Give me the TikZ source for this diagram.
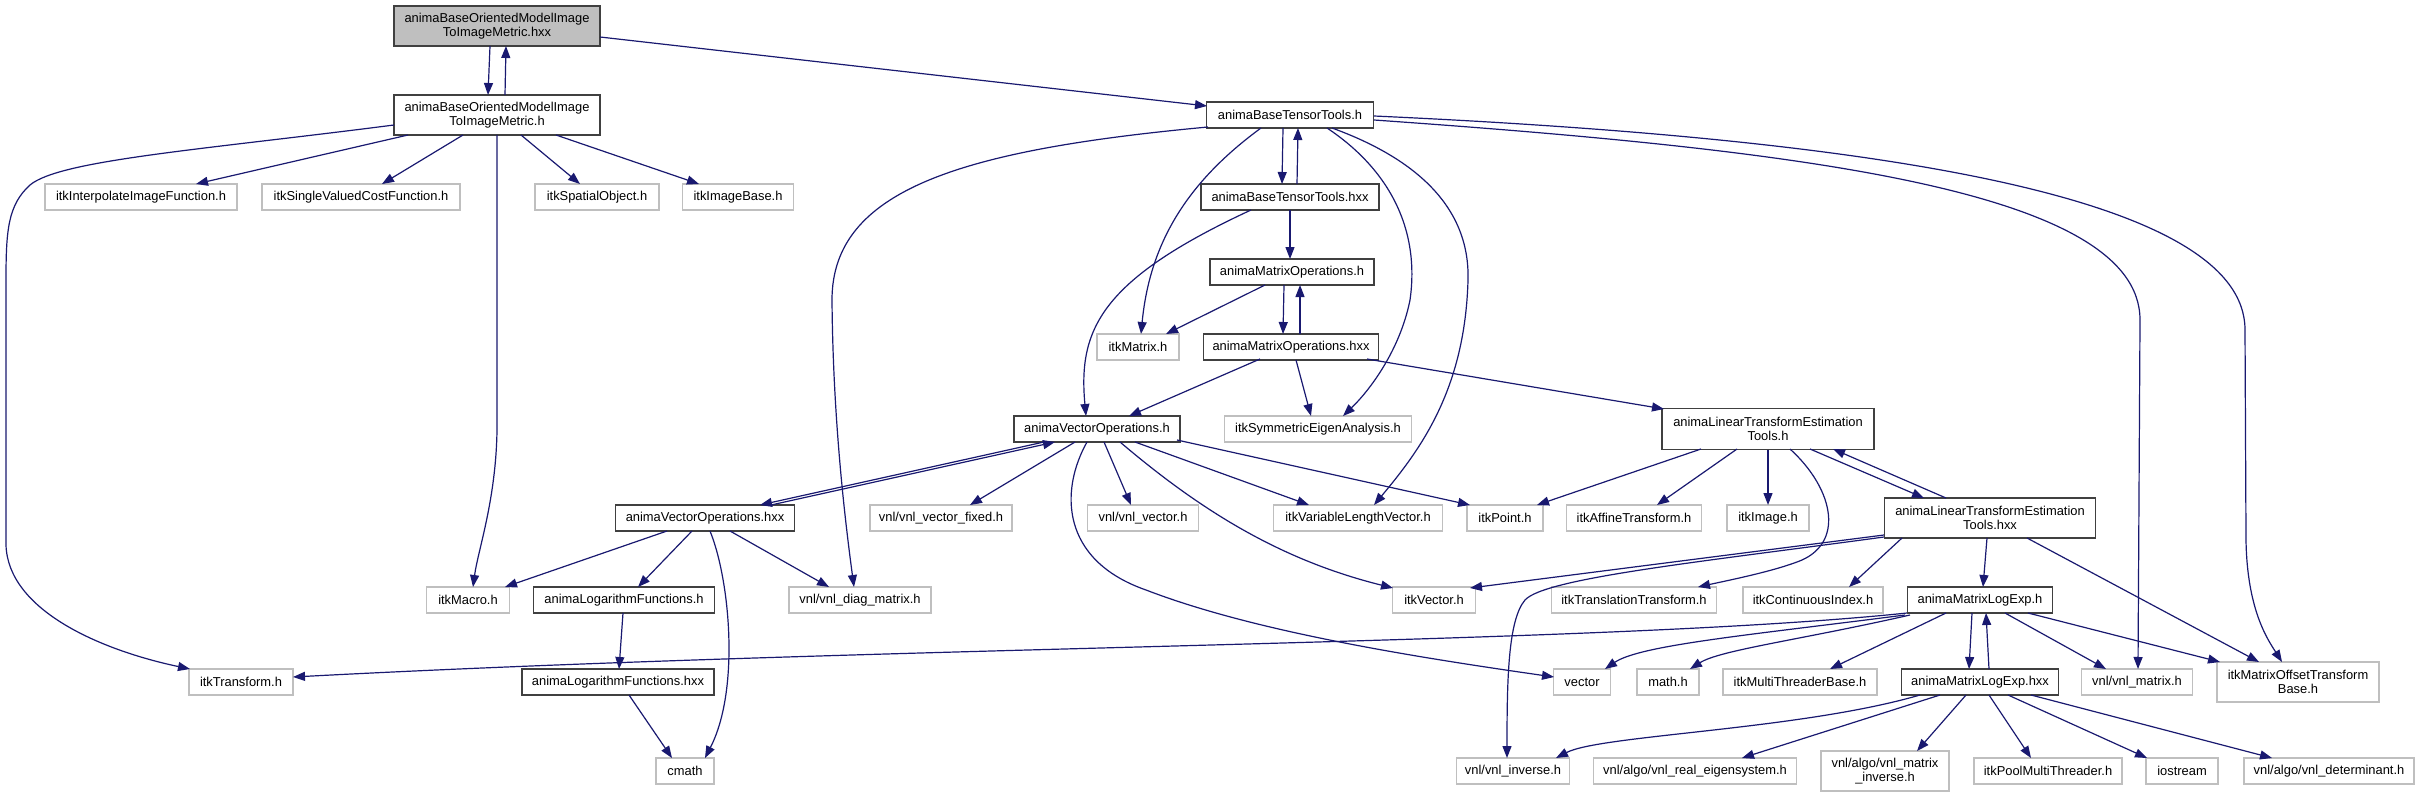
\documentclass[tikz,border=0pt]{standalone}
\usepackage{fontspec}
\setmainfont{Liberation Sans}
\usetikzlibrary{arrows.meta,calc}
\definecolor{edgec}{HTML}{191970}
\definecolor{extb}{HTML}{BFBFBF}
\definecolor{intb}{HTML}{404040}
\definecolor{curf}{HTML}{BFBFBF}
\begin{document}
\begin{tikzpicture}[x=1pt,y=-1pt,
 box/.style={rectangle, inner sep=0pt, align=center, font=\fontsize{12.9}{14}\selectfont, minimum height=26pt},
 int/.style={box, draw=intb, line width=1.3pt, fill=white},
 ext/.style={box, draw=extb, line width=1.2pt, fill=white},
 cur/.style={box, draw=intb, line width=1.3pt, fill=curf},
 e/.style={draw=edgec, line width=1.2pt, -{Triangle[length=12pt,width=9pt]}},
]
\fill[white] (0,0) rectangle (2420,797);
\useasboundingbox (0,0) rectangle (2420,797);

% nodes
\node[cur, minimum width=206pt, minimum height=40pt] (n0) at (497,26) {animaBaseOrientedModelImage\\ToImageMetric.hxx};
\node[int, minimum width=206pt, minimum height=40pt] (n1) at (497,115) {animaBaseOrientedModelImage\\ToImageMetric.h};
\node[ext, minimum width=192pt] (interp) at (141,197) {itkInterpolateImageFunction.h};
\node[ext, minimum width=198pt] (svcf) at (361,197) {itkSingleValuedCostFunction.h};
\node[ext, minimum width=124pt] (spatial) at (597,197) {itkSpatialObject.h};
\node[ext, minimum width=111pt] (imgbase) at (738,197) {itkImageBase.h};
\node[int, minimum width=167pt] (btt) at (1290,115) {animaBaseTensorTools.h};
\node[int, minimum width=178pt] (bttx) at (1290,197) {animaBaseTensorTools.hxx};
\node[int, minimum width=164pt] (amo) at (1292,272) {animaMatrixOperations.h};
\node[ext, minimum width=82pt] (itkmatrix) at (1138,347) {itkMatrix.h};
\node[int, minimum width=175pt] (amox) at (1291,347) {animaMatrixOperations.hxx};
\node[int, minimum width=166pt] (avo) at (1097,429) {animaVectorOperations.h};
\node[ext, minimum width=187pt] (symeig) at (1318,429) {itkSymmetricEigenAnalysis.h};
\node[int, minimum width=212pt, minimum height=41pt] (alt) at (1768,429) {animaLinearTransformEstimation\\Tools.h};
\node[int, minimum width=179pt] (avox) at (705,518) {animaVectorOperations.hxx};
\node[ext, minimum width=142pt] (vfixed) at (941,518) {vnl/vnl\_vector\_fixed.h};
\node[ext, minimum width=111pt] (vvec) at (1143,518) {vnl/vnl\_vector.h};
\node[ext, minimum width=169pt] (varlen) at (1358,518) {itkVariableLengthVector.h};
\node[ext, minimum width=76pt] (point) at (1505,518) {itkPoint.h};
\node[ext, minimum width=135pt] (affine) at (1634,518) {itkAffineTransform.h};
\node[ext, minimum width=82pt] (image) at (1768,518) {itkImage.h};
\node[int, minimum width=211pt, minimum height=40pt] (altx) at (1990,518) {animaLinearTransformEstimation\\Tools.hxx};
\node[ext, minimum width=83pt] (macro) at (468,600) {itkMacro.h};
\node[int, minimum width=181pt] (alf) at (624,600) {animaLogarithmFunctions.h};
\node[ext, minimum width=142pt] (diag) at (860,600) {vnl/vnl\_diag\_matrix.h};
\node[ext, minimum width=83pt] (vec) at (1434,600) {itkVector.h};
\node[ext, minimum width=165pt] (transl) at (1634,600) {itkTranslationTransform.h};
\node[ext, minimum width=140pt] (contidx) at (1813,600) {itkContinuousIndex.h};
\node[int, minimum width=145pt] (aml) at (1980,600) {animaMatrixLogExp.h};
\node[ext, minimum width=104pt] (transform) at (241,682) {itkTransform.h};
\node[int, minimum width=192pt] (alfx) at (618,682) {animaLogarithmFunctions.hxx};
\node[ext, minimum width=57pt] (stdvec) at (1582,682) {vector};
\node[ext, minimum width=62pt] (mathh) at (1668,682) {math.h};
\node[ext, minimum width=154pt] (mtb) at (1800,682) {itkMultiThreaderBase.h};
\node[int, minimum width=157pt] (amlx) at (1980,682) {animaMatrixLogExp.hxx};
\node[ext, minimum width=111pt] (vmat) at (2137,682) {vnl/vnl\_matrix.h};
\node[ext, minimum width=162pt, minimum height=40pt] (mot) at (2298,682) {itkMatrixOffsetTransform\\Base.h};
\node[ext, minimum width=58pt] (cmath) at (685,771) {cmath};
\node[ext, minimum width=113pt] (vinv) at (1513,771) {vnl/vnl\_inverse.h};
\node[ext, minimum width=203pt] (reig) at (1695,771) {vnl/algo/vnl\_real\_eigensystem.h};
\node[ext, minimum width=128pt, minimum height=40pt] (minv) at (1885,771) {vnl/algo/vnl\_matrix\\\_inverse.h};
\node[ext, minimum width=148pt] (pool) at (2048,771) {itkPoolMultiThreader.h};
\node[ext, minimum width=72pt] (iostream) at (2182,771) {iostream};
\node[ext, minimum width=170pt] (det) at (2329,771) {vnl/algo/vnl\_determinant.h};

% edges
\draw[e] ($(n0)+(-7,20)$) -- ($(n1)+(-9,-20)$);
\draw[e] ($(n1)+(8,-20)$) -- ($(n0)+(9,20)$);
\draw[e] ($(n0)+(103,11)$) -- ($(btt)+(-83,-9)$);
\draw[e] ($(n1)+(-89,20)$) -- ($(interp)+(55,-13)$);
\draw[e] ($(n1)+(-34,20)$) -- ($(svcf)+(21,-13)$);
\draw[e] ($(n1)+(24,20)$) -- ($(spatial)+(-17,-13)$);
\draw[e] ($(n1)+(59,20)$) -- ($(imgbase)+(-39,-13)$);
\draw[e] ($(n1)+(0,20)$) -- (497,430) .. controls (496,500) and (478,550) .. ($(macro)+(5,-13)$);
\draw[e] ($(n1)+(-103,10)$) .. controls (200,150) and (60,160) .. (30,185) .. controls (8,205) and (6,230) .. (6,280) -- (6,545) .. controls (8,610) and (100,650) .. ($(transform)+(-51,-13)$);

\draw[e] ($(btt)+(-7,13)$) -- ($(bttx)+(-8,-13)$);
\draw[e] ($(bttx)+(7,-13)$) -- ($(btt)+(8,13)$);
\draw[e] ($(btt)+(-82,12)$) .. controls (960,150) and (832,190) .. (832,300) .. controls (833,420) and (845,520) .. ($(diag)+(-6,-13)$);
\draw[e] ($(btt)+(-29,13)$) .. controls (1190,180) and (1150,240) .. ($(itkmatrix)+(3,-13)$);
\draw[e] ($(btt)+(37,13)$) .. controls (1390,170) and (1420,230) .. (1410,300) .. controls (1400,350) and (1370,390) .. ($(symeig)+(25,-13)$);
\draw[e] ($(btt)+(42,13)$) .. controls (1420,160) and (1470,210) .. (1468,280) .. controls (1465,390) and (1420,450) .. ($(varlen)+(16,-13)$);
\draw[e] ($(btt)+(84,5)$) .. controls (1800,150) and (2140,190) .. (2140,320) -- ($(vmat)+(1,-13)$);
\draw[e] ($(btt)+(84,1)$) .. controls (1900,140) and (2245,200) .. (2245,330) -- (2246,540) .. controls (2247,610) and (2268,640) .. ($(mot)+(-16,-20)$);

\draw[e] ($(bttx)+(0,13)$) -- ($(amo)+(-2,-13)$);
\draw[e] ($(bttx)+(-39,13)$) .. controls (1100,280) and (1078,330) .. ($(avo)+(-11,-13)$);
\draw[e] ($(amo)+(-27,13)$) -- ($(itkmatrix)+(28,-13)$);
\draw[e] ($(amo)+(-8,13)$) -- ($(amox)+(-8,-13)$);
\draw[e] ($(amox)+(9,-13)$) -- ($(amo)+(8,13)$);
\draw[e] ($(amox)+(-31,12)$) -- ($(avo)+(32,-13)$);
\draw[e] ($(amox)+(5,13)$) -- ($(symeig)+(-7,-13)$);
\draw[e] ($(amox)+(76,12)$) -- ($(alt)+(-104,-20)$);

\draw[e] ($(avo)+(-53,13)$) -- ($(avox)+(55,-13)$);
\draw[e] ($(avox)+(66,-13)$) -- ($(avo)+(-42,13)$);
\draw[e] ($(avo)+(-22,13)$) -- ($(vfixed)+(29,-13)$);
\draw[e] ($(avo)+(7,13)$) -- ($(vvec)+(-12,-13)$);
\draw[e] ($(avo)+(38,13)$) -- ($(varlen)+(-49,-13)$);
\draw[e] ($(avo)+(80,11)$) -- ($(point)+(-35,-13)$);
\draw[e] ($(avo)+(23,13)$) .. controls (1200,510) and (1280,560) .. ($(vec)+(-41,-12)$);
\draw[e] ($(avo)+(-10,13)$) .. controls (1060,490) and (1060,560) .. (1146,590) .. controls (1250,630) and (1400,655) .. ($(stdvec)+(-28,-5)$);

\draw[e] ($(avox)+(-38,13)$) -- ($(macro)+(37,-13)$);
\draw[e] ($(avox)+(-13,13)$) -- ($(alf)+(14,-13)$);
\draw[e] ($(avox)+(25,13)$) -- ($(diag)+(-31,-13)$);
\draw[e] ($(avox)+(5,13)$) .. controls (730,580) and (740,690) .. ($(cmath)+(20,-13)$);
\draw[e] ($(alf)+(-1,13)$) -- ($(alfx)+(1,-13)$);
\draw[e] ($(alfx)+(11,13)$) -- ($(cmath)+(-13,-13)$);

\draw[e] ($(alt)+(-67,20)$) -- ($(point)+(32,-13)$);
\draw[e] ($(alt)+(-31,20)$) -- ($(affine)+(23,-13)$);
\draw[e] ($(alt)+(0,20.5)$) -- ($(image)+(0,-13)$);
\draw[e] ($(alt)+(42,20)$) -- ($(altx)+(-66,-20)$);
\draw[e] ($(altx)+(-44,-20)$) -- ($(alt)+(65,20)$);
\draw[e] ($(alt)+(22,20)$) .. controls (1835,490) and (1845,545) .. (1797,562) .. controls (1770,572) and (1730,580) .. ($(transl)+(64,-13)$);

\draw[e] ($(altx)+(-106,17)$) -- ($(vec)+(36,-12)$);
\draw[e] ($(altx)+(-106,19)$) .. controls (1700,562) and (1545,578) .. (1525,600) .. controls (1508,620) and (1507,680) .. ($(vinv)+(-6,-13)$);
\draw[e] ($(altx)+(-88,20)$) -- ($(contidx)+(36,-13)$);
\draw[e] ($(altx)+(-3,20)$) -- ($(aml)+(3,-13)$);
\draw[e] ($(altx)+(37,20)$) -- ($(mot)+(-39,-20)$);

\draw[e] ($(aml)+(-73,13)$) .. controls (1600,645) and (900,645) .. ($(transform)+(52,-5)$);
\draw[e] ($(aml)+(-75,15)$) .. controls (1750,635) and (1640,645) .. ($(stdvec)+(23,-13)$);
\draw[e] ($(aml)+(-70,15)$) .. controls (1800,640) and (1720,650) .. ($(mathh)+(22,-13)$);
\draw[e] ($(aml)+(-34,13)$) -- ($(mtb)+(30,-13)$);
\draw[e] ($(aml)+(-8,13)$) -- ($(amlx)+(-11,-13)$);
\draw[e] ($(amlx)+(9,-13)$) -- ($(aml)+(6,13)$);
\draw[e] ($(aml)+(25,13)$) -- ($(vmat)+(-31,-13)$);
\draw[e] ($(aml)+(48,13)$) -- ($(mot)+(-78,-20)$);

\draw[e] ($(amlx)+(-60,13)$) .. controls (1800,730) and (1600,735) .. ($(vinv)+(43,-13)$);
\draw[e] ($(amlx)+(-40,13)$) -- ($(reig)+(47,-13)$);
\draw[e] ($(amlx)+(-14,13)$) -- ($(minv)+(32,-20)$);
\draw[e] ($(amlx)+(9,13)$) -- ($(pool)+(-17,-13)$);
\draw[e] ($(amlx)+(28,13)$) -- ($(iostream)+(-35,-13)$);
\draw[e] ($(amlx)+(51,13)$) -- ($(det)+(-57,-13)$);
\end{tikzpicture}
\end{document}
